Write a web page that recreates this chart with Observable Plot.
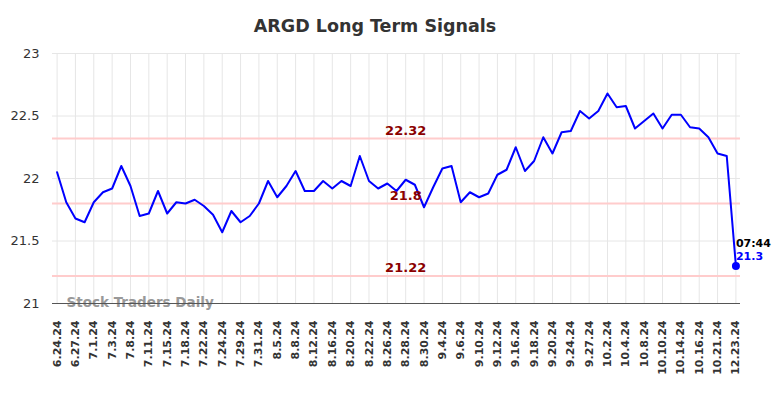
<!DOCTYPE html>
<html>
<head>
<meta charset="utf-8">
<script src="https://cdn.jsdelivr.net/npm/d3@7"></script>
<script src="https://cdn.jsdelivr.net/npm/@observablehq/plot@0.6"></script>
<style>
  html, body { margin: 0; padding: 0; background: #fff; }
  #wrap { position: relative; width: 784px; height: 398px; font-family: "DejaVu Sans", sans-serif; }
  #title { position: absolute; left: 375px; top: 16px; transform: translateX(-50%); font-size: 17.5px; font-weight: bold; color: #333; white-space: nowrap; }
  #chart { position: absolute; left: 0; top: 40px; }
</style>
</head>
<body>
<div id="wrap">
  <div id="title">ARGD Long Term Signals</div>
  <div id="chart"></div>
</div>
<script>
const dates = [
  "6.24.24","6.26.24","6.27.24","6.28.24","7.1.24","7.2.24","7.3.24","7.5.24","7.8.24","7.10.24",
  "7.11.24","7.12.24","7.15.24","7.17.24","7.18.24","7.19.24","7.22.24","7.23.24","7.24.24","7.26.24",
  "7.29.24","7.30.24","7.31.24","8.2.24","8.5.24","8.7.24","8.8.24","8.9.24","8.12.24","8.14.24",
  "8.16.24","8.19.24","8.20.24","8.21.24","8.22.24","8.23.24","8.26.24","8.27.24","8.28.24","8.29.24",
  "8.30.24","9.3.24","9.4.24","9.5.24","9.6.24","9.9.24","9.10.24","9.11.24","9.12.24","9.13.24",
  "9.16.24","9.17.24","9.18.24","9.19.24","9.20.24","9.23.24","9.24.24","9.26.24","9.27.24","10.1.24",
  "10.2.24","10.3.24","10.4.24","10.7.24","10.8.24","10.9.24","10.10.24","10.11.24","10.14.24","10.15.24",
  "10.16.24","10.18.24","10.21.24","10.22.24","12.23.24"
];
const values = [
  22.05,21.81,21.68,21.65,21.81,21.89,21.92,22.10,21.94,21.70,
  21.72,21.90,21.72,21.81,21.80,21.83,21.78,21.71,21.57,21.74,
  21.65,21.70,21.80,21.98,21.85,21.94,22.06,21.90,21.90,21.98,
  21.92,21.98,21.94,22.18,21.98,21.92,21.96,21.90,21.99,21.95,
  21.77,21.93,22.08,22.10,21.81,21.89,21.85,21.88,22.03,22.07,
  22.25,22.06,22.14,22.33,22.20,22.37,22.38,22.54,22.48,22.54,
  22.68,22.57,22.58,22.40,22.46,22.52,22.40,22.51,22.51,22.41,
  22.40,22.33,22.20,22.18,21.30
];
const tickDates = dates.filter((d, i) => i % 2 === 0);
const yTicks = [21, 21.5, 22, 22.5, 23];
const levels = [22.32, 21.8, 21.22];
const levelLabels = ["22.32", "21.8", "21.22"];
const levelLabelDate = "8.28.24";
const lastTime = "07:44";
const lastValueLabel = "21.3";
const watermark = "Stock Traders Daily";

const data = dates.map((d, i) => ({date: d, value: values[i]}));
const levelData = levels.map((v, i) => ({value: v, label: levelLabels[i]}));
const last = data[data.length - 1];

const chart = Plot.plot({
  width: 784,
  height: 358,
  marginTop: 13,
  marginBottom: 95,
  marginLeft: 52,
  marginRight: 44,
  style: {fontFamily: "DejaVu Sans, sans-serif", background: "transparent"},
  x: {type: "point", domain: dates, padding: 0.5, round: false, axis: null, label: null},
  y: {domain: [21, 23], axis: null, label: null},
  marks: [
    Plot.gridX(tickDates, {stroke: "#e6e6e6", strokeOpacity: 1, strokeWidth: 1}),
    Plot.gridY(yTicks, {stroke: "#e6e6e6", strokeOpacity: 1, strokeWidth: 1}),
    Plot.ruleY(levels, {stroke: "#ffcccc", strokeWidth: 2}),
    Plot.axisX({ticks: tickDates, label: null, tickSize: 0, tickPadding: 17, tickRotate: -90, fontSize: 11, fontWeight: "bold", fill: "#333"}),
    Plot.axisY({ticks: yTicks, label: null, tickSize: 0, tickPadding: 13, fontSize: 13, fill: "#333", tickFormat: d => String(d)}),
    Plot.text([watermark], {frameAnchor: "bottom-left", dx: 14, dy: -1, textAnchor: "start", lineAnchor: "middle", fontSize: 13.5, fontWeight: "bold", fill: "#999"}),
    Plot.ruleY([21], {stroke: "#555", strokeWidth: 1}),
    Plot.line(data, {x: "date", y: "value", stroke: "#0000ff", strokeWidth: 2}),
    Plot.text(levelData, {x: () => levelLabelDate, y: "value", text: "label", dy: -8, fontSize: 13, fontWeight: "bold", fill: "#8b0000"}),
    Plot.dot([last], {x: "date", y: "value", r: 4, fill: "#0000ff"}),
    Plot.text([last], {x: "date", y: "value", text: () => lastTime, dy: -23, textAnchor: "start", fontSize: 11, fontWeight: "bold", fill: "#000"}),
    Plot.text([last], {x: "date", y: "value", text: () => lastValueLabel, dy: -10, textAnchor: "start", fontSize: 11, fontWeight: "bold", fill: "#0000ff"})
  ]
});
document.getElementById("chart").appendChild(chart);
</script>
</body>
</html>
